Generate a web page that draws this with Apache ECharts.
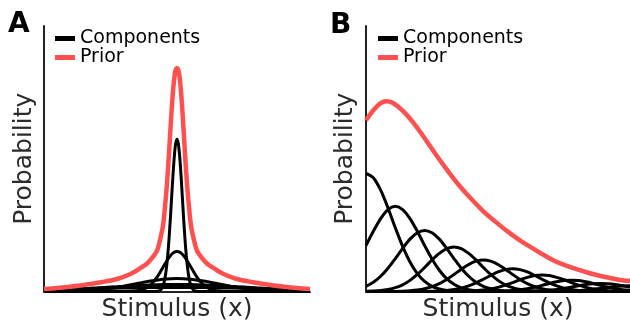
<!DOCTYPE html>
<html>
<head>
<meta charset="utf-8">
<script src="https://cdn.jsdelivr.net/npm/echarts@6/dist/echarts.min.js"></script>
<style>
  html, body { margin: 0; padding: 0; background: #fff; }
  #chart { width: 630px; height: 326px; }
</style>
</head>
<body>
<div id="chart"></div>
<script>
// Panel A: zero-centred components of different widths and their summed prior
const aComp1 = [[-10,0],[-2,0],[-1.5,0.2],[-1.3,1.0],[-1.15,3.0],[-1.0,7.9],[-0.9,13.8],[-0.8,22.9],[-0.7,35.7],[-0.6,52.4],[-0.5,72.5],[-0.4,94.7],[-0.3,116.5],[-0.2,135],[-0.1,147.6],[0,152],[0.1,147.6],[0.2,135],[0.3,116.5],[0.4,94.7],[0.5,72.5],[0.6,52.4],[0.7,35.7],[0.8,22.9],[0.9,13.8],[1.0,7.9],[1.15,3.0],[1.3,1.0],[1.5,0.2],[2,0],[10,0]];
const aComp2 = [[-10,0],[-4,0],[-3.5,0.15],[-3,0.7],[-2.75,1.3],[-2.5,2.4],[-2.25,4.0],[-2,6.5],[-1.75,10],[-1.5,14.4],[-1.25,19.7],[-1,25.4],[-0.75,31],[-0.5,35.7],[-0.25,38.9],[0,40],[0.25,38.9],[0.5,35.7],[0.75,31],[1,25.4],[1.25,19.7],[1.5,14.4],[1.75,10],[2,6.5],[2.25,4.0],[2.5,2.4],[2.75,1.3],[3,0.7],[3.5,0.15],[4,0],[10,0]];
const aComp3 = [[-10,0],[-9,0.1],[-8,0.4],[-7,0.9],[-6,1.8],[-5,3.2],[-4,5.3],[-3,7.9],[-2,10.4],[-1,12.3],[0,13],[1,12.3],[2,10.4],[3,7.9],[4,5.3],[5,3.2],[6,1.8],[7,0.9],[8,0.4],[9,0.1],[10,0]];
const aComp4 = [[-10,1.15],[-9,1.6],[-8,2.2],[-7,2.9],[-6,3.65],[-5,4.45],[-4,5.2],[-3,5.95],[-2,6.5],[-1,6.9],[0,7],[1,6.9],[2,6.5],[3,5.95],[4,5.2],[5,4.45],[6,3.65],[7,2.9],[8,2.2],[9,1.6],[10,1.15]];
const aComp5 = [[-10,1.9],[-8,2.5],[-6,3.1],[-4,3.55],[-2,3.9],[0,4],[2,3.9],[4,3.55],[6,3.1],[8,2.5],[10,1.9]];
const aPrior = [[-10,2.5],[-9,3.5],[-7.9,5],[-6.8,7],[-5.6,9.5],[-4.5,12.5],[-3.5,17.5],[-2.8,23],[-2.25,28],[-1.9,33],[-1.5,41],[-1.3,50],[-1.05,66],[-0.9,85],[-0.75,108],[-0.6,138],[-0.45,171],[-0.3,200],[-0.15,218],[0,223],[0.15,218],[0.3,200],[0.45,171],[0.6,138],[0.75,108],[0.9,85],[1.05,66],[1.3,50],[1.5,41],[1.9,33],[2.25,28],[2.8,23],[3.5,17.5],[4.5,12.5],[5.6,9.5],[6.8,7],[7.9,5],[9,3.5],[10,2.5]];

// Panel B: shifted components with decreasing weight and their summed prior
const bComp1 = [[0,118],[0.25,113.5],[0.5,101.1],[0.75,83.4],[1,63.6],[1.25,45.0],[1.5,29.4],[1.75,17.8],[2,10.0],[2.25,5.2],[2.5,2.5],[2.75,1.1],[3,0.5],[3.5,0],[9,0]];
const bComp2 = [[0,45.8],[0.25,60.1],[0.5,72.8],[0.75,81.8],[1,85],[1.25,81.8],[1.5,72.8],[1.75,60.1],[2,45.8],[2.25,32.4],[2.5,21.2],[2.75,12.8],[3,7.2],[3.25,3.7],[3.5,1.8],[3.75,0.8],[4,0.3],[4.5,0],[9,0]];
const bComp3 = [[0,5.2],[0.25,9.2],[0.5,15.2],[0.75,23.2],[1,32.9],[1.25,43.1],[1.5,52.3],[1.75,58.7],[2,61],[2.25,58.7],[2.5,52.3],[2.75,43.1],[3,32.9],[3.25,23.2],[3.5,15.2],[3.75,9.2],[4,5.2],[4.25,2.7],[4.5,1.3],[4.75,0.6],[5,0.2],[5.5,0],[9,0]];
const bComp4 = [[0,0.2],[0.25,0.4],[0.5,0.9],[0.75,2.0],[1,3.8],[1.25,6.7],[1.5,11.1],[1.75,17.0],[2,24.0],[2.25,31.5],[2.5,38.1],[2.75,42.8],[3,44.5],[3.25,42.8],[3.5,38.1],[3.75,31.5],[4,24.0],[4.25,17.0],[4.5,11.1],[4.75,6.7],[5,3.8],[5.25,2.0],[5.5,0.9],[5.75,0.4],[6,0.2],[6.5,0],[9,0]];
const bComp5 = [[0,0],[0.5,0],[1,0.1],[1.25,0.3],[1.5,0.7],[1.75,1.4],[2,2.7],[2.25,4.8],[2.5,7.8],[2.75,12.0],[3,17.0],[3.25,22.3],[3.5,27.0],[3.75,30.3],[4,31.5],[4.25,30.3],[4.5,27.0],[4.75,22.3],[5,17.0],[5.25,12.0],[5.5,7.8],[5.75,4.8],[6,2.7],[6.25,1.4],[6.5,0.7],[6.75,0.3],[7,0.1],[7.5,0],[9,0]];
const bComp6 = [[0,0],[1.5,0],[2,0.1],[2.25,0.2],[2.5,0.5],[2.75,1.0],[3,1.9],[3.25,3.4],[3.5,5.7],[3.75,8.6],[4,12.2],[4.25,16.0],[4.5,19.5],[4.75,21.8],[5,22.7],[5.25,21.8],[5.5,19.5],[5.75,16.0],[6,12.2],[6.25,8.6],[6.5,5.7],[6.75,3.4],[7,1.9],[7.25,1.0],[7.5,0.5],[7.75,0.2],[8,0.1],[8.5,0],[9,0]];
const bComp7 = [[0,0],[2.5,0],[3,0.1],[3.25,0.2],[3.5,0.3],[3.75,0.7],[4,1.4],[4.25,2.5],[4.5,4.1],[4.75,6.3],[5,8.9],[5.25,11.7],[5.5,14.1],[5.75,15.9],[6,16.5],[6.25,15.9],[6.5,14.1],[6.75,11.7],[7,8.9],[7.25,6.3],[7.5,4.1],[7.75,2.5],[8,1.4],[8.25,0.7],[8.5,0.3],[8.75,0.2],[9,0.1]];
const bComp8 = [[0,0],[4,0],[4.25,0.1],[4.5,0.2],[4.75,0.5],[5,1.0],[5.25,1.7],[5.5,2.8],[5.75,4.3],[6,6.1],[6.25,8.0],[6.5,9.7],[6.75,10.9],[7,11.3],[7.25,10.9],[7.5,9.7],[7.75,8.0],[8,6.1],[8.25,4.3],[8.5,2.8],[8.75,1.7],[9,1.0]];
const bComp9 = [[0,0],[5,0],[5.25,0.1],[5.5,0.2],[5.75,0.4],[6,0.7],[6.25,1.2],[6.5,2.0],[6.75,3.0],[7,4.3],[7.25,5.7],[7.5,6.9],[7.75,7.7],[8,8.0],[8.25,7.7],[8.5,6.9],[8.75,5.7],[9,4.3]];
const bComp10 = [[0,0],[6,0],[6.25,0.1],[6.5,0.1],[6.75,0.3],[7,0.5],[7.25,0.9],[7.5,1.4],[7.75,2.2],[8,3.1],[8.25,4.0],[8.5,4.9],[8.75,5.5],[9,5.7]];
const bPrior = [[0,171],[0.25,181],[0.5,188],[0.7,190],[0.9,188.5],[1.1,184.5],[1.3,179],[1.6,169],[2.0,153],[2.4,136],[2.8,120],[3.2,105],[3.6,92],[4.0,80],[4.4,70],[4.8,60.5],[5.2,52],[5.6,44.5],[6.0,37.5],[6.4,31],[6.8,26],[7.2,22],[7.6,18.5],[8.0,15.5],[8.4,13],[8.8,11],[9.0,10.5]];

const legendNames = ['Components', 'Prior'];
const panelLabels = ['A', 'B'];
const xTitle = 'Stimulus (x)';
const yTitle = 'Probability';

const FONT = 'DejaVu Sans';
const INK = '#000';
const AXIS_INK = '#222';
const PRIOR_RED = '#ff5050';

function axisCommon(name) {
  return {
    type: 'value',
    axisLine: { show: true, onZero: false, lineStyle: { color: AXIS_INK, width: 2 } },
    axisTick: { show: false },
    axisLabel: { show: false },
    splitLine: { show: false },
    name: name,
    nameLocation: 'middle',
    nameTextStyle: { fontFamily: FONT, fontSize: 25, color: '#2b2b2b' }
  };
}

function componentSeries(data, idx) {
  return {
    type: 'line', name: legendNames[0], data: data,
    xAxisIndex: idx, yAxisIndex: idx,
    showSymbol: false, smooth: 0.3, silent: true, z: 2,
    itemStyle: { color: INK },
    lineStyle: { color: INK, width: 3 }
  };
}

function priorSeries(data, idx) {
  return {
    type: 'line', name: legendNames[1], data: data,
    xAxisIndex: idx, yAxisIndex: idx,
    showSymbol: false, smooth: 0.3, silent: true, z: 3,
    itemStyle: { color: PRIOR_RED },
    lineStyle: { color: PRIOR_RED, width: 4.5 }
  };
}

function legendAt(left) {
  return {
    left: left, top: 29, padding: 0, orient: 'vertical', icon: 'rect',
    itemWidth: 20, itemHeight: 5, itemGap: 0, selectedMode: false,
    textStyle: { fontFamily: FONT, fontSize: 19, lineHeight: 19, color: INK },
    data: legendNames
  };
}

const chart = echarts.init(document.getElementById('chart'), null, { renderer: 'canvas' });

chart.setOption({
  animation: false,
  backgroundColor: '#fff',
  title: [
    { text: panelLabels[0], left: 8, top: 11, padding: 0, textStyle: { fontFamily: FONT, fontSize: 28, fontWeight: 'bold', color: INK } },
    { text: panelLabels[1], left: 330, top: 12, padding: 0, textStyle: { fontFamily: FONT, fontSize: 28, fontWeight: 'bold', color: INK } }
  ],
  legend: [legendAt(55), legendAt(378)],
  grid: [
    { left: 44, top: 26, width: 266, height: 265.5, outerBoundsMode: 'none', containLabel: false },
    { left: 366, top: 26, width: 264, height: 265.5, outerBoundsMode: 'none', containLabel: false }
  ],
  xAxis: [
    Object.assign(axisCommon(xTitle), { gridIndex: 0, min: -10, max: 10, nameGap: 5 }),
    Object.assign(axisCommon(xTitle), { gridIndex: 1, min: 0, max: 9, nameGap: 5 })
  ],
  yAxis: [
    Object.assign(axisCommon(yTitle), { gridIndex: 0, min: 0, max: 265, nameGap: 7 }),
    Object.assign(axisCommon(yTitle), { gridIndex: 1, min: 0, max: 265, nameGap: 8 })
  ],
  series: [
    componentSeries(aComp5, 0), componentSeries(aComp4, 0), componentSeries(aComp3, 0),
    componentSeries(aComp2, 0), componentSeries(aComp1, 0),
    priorSeries(aPrior, 0),
    componentSeries(bComp10, 1), componentSeries(bComp9, 1), componentSeries(bComp8, 1),
    componentSeries(bComp7, 1), componentSeries(bComp6, 1), componentSeries(bComp5, 1),
    componentSeries(bComp4, 1), componentSeries(bComp3, 1), componentSeries(bComp2, 1),
    componentSeries(bComp1, 1),
    priorSeries(bPrior, 1)
  ]
});
</script>
</body>
</html>
